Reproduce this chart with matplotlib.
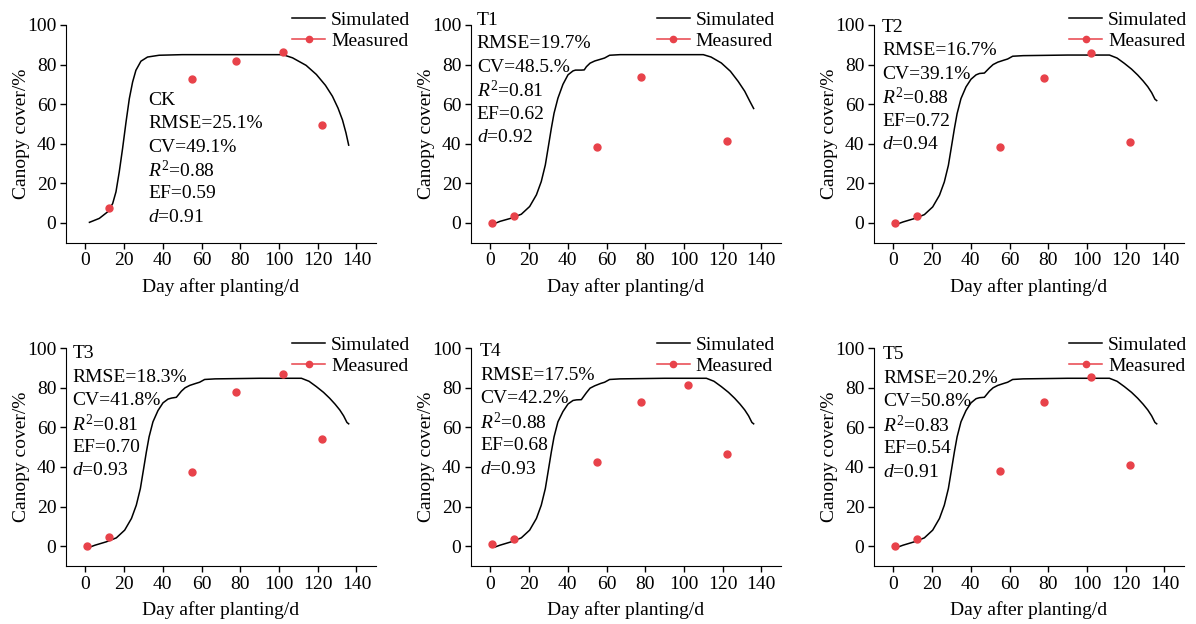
import matplotlib
matplotlib.use("Agg")
import matplotlib.pyplot as plt
from matplotlib.lines import Line2D
import numpy as np

plt.rcParams['font.family'] = ['Liberation Serif', 'DejaVu Serif']
plt.rcParams['mathtext.fontset'] = 'custom'
plt.rcParams['mathtext.rm'] = 'Liberation Serif'
plt.rcParams['mathtext.it'] = 'Liberation Serif:italic'
plt.rcParams['font.size'] = 14

RED = '#e8424a'

panel_names = ["CK", "T1", "T2", "T3", "T4", "T5"]

# measured canopy cover (days after planting, %)
meas_days = {
    "CK": [12, 55, 78, 102, 122],
    "T1": [1, 12, 55, 78, 122],
    "T2": [1, 12, 55, 78, 102, 122],
    "T3": [1, 12, 55, 78, 102, 122],
    "T4": [1, 12, 55, 78, 102, 122],
    "T5": [1, 12, 55, 78, 102, 122],
}
meas_cc = {
    "CK": [7.6, 72.7, 81.6, 86.2, 49.7],
    "T1": [0.2, 3.7, 38.3, 73.5, 41.3],
    "T2": [0.0, 3.7, 38.3, 73.4, 86.0, 41.1],
    "T3": [0.3, 4.5, 37.4, 78.1, 87.0, 53.9],
    "T4": [1.0, 3.5, 42.4, 73.0, 81.3, 46.6],
    "T5": [0.0, 3.5, 38.0, 73.0, 85.2, 41.0],
}

# simulated canopy cover
ck_days = [2.1, 7.2, 11.5, 14.1, 15.8, 17.5, 19.2, 21, 22.7, 24.4, 26.1, 28.7,
           32.1, 38.1, 50, 70, 90, 102, 107, 114, 119.3, 124, 127.6, 130.5,
           132.8, 134.6, 136]
ck_cc = [0.3, 2.3, 5.6, 9.8, 15.7, 25.8, 37.5, 51, 62.8, 71.2, 77.1, 81.7,
         83.8, 84.7, 85, 85, 85, 85, 83.4, 79.6, 75, 69.5, 64, 58, 52, 45.5, 39.3]

t1_days = [2.2, 5, 10.8, 16, 20.3, 23.8, 26.3, 28.4, 30.1, 31.5, 32.9, 34.9,
           37.5, 40.1, 42.7, 44, 47, 48.5, 49.6, 51.5, 53.9, 57, 59, 61.6, 67,
           90, 110, 114, 119.3, 124, 128, 131.4, 134, 136]
t1_cc = [-0.3, 0.8, 2.4, 4.4, 8.3, 14.2, 20.9, 29.3, 39.4, 47.8, 55.4, 63,
         70, 74.8, 76.8, 77.2, 77.2, 77.3, 78.9, 80.7, 81.8, 82.7, 83.3, 84.7,
         85, 85, 85, 83.8, 80.8, 76.6, 71.5, 66.5, 61.5, 57.8]

t2_days = [2.2, 5, 10.8, 16, 20.3, 23.8, 26.3, 28.4, 30.1, 31.5, 32.9, 34.9,
           37.5, 40.1, 42.7, 44.5, 47, 49.6, 51.5, 53.9, 57, 59, 61.6, 67, 90,
           111.6, 115.5, 119.3, 123, 126.2, 129, 131.4, 133.4, 135.1, 136]
t2_cc = [-0.5, 0.5, 2.2, 4.2, 8.1, 14, 20.7, 29.1, 39.2, 47.6, 55.2, 62.8,
         68.7, 72.6, 74.8, 75.5, 75.7, 78.3, 80, 81.2, 82.2, 82.8, 84.2, 84.5,
         84.8, 84.8, 83.3, 80.6, 77.7, 74.7, 71.7, 68.8, 65.8, 62.5, 61.8]

t3_days = t2_days
t3_cc = [-0.5, 0.5, 2.2, 4.2, 8.1, 14, 20.7, 29.1, 39.2, 47.6, 55.2, 62.8,
         68.5, 72.4, 74.3, 74.8, 75.2, 78.3, 80, 81.2, 82.2, 82.8, 84.2, 84.5,
         84.8, 84.8, 83.3, 80.6, 77.7, 74.7, 71.7, 68.8, 65.8, 62.5, 61.8]

t4_days = t2_days
t4_cc = [-0.5, 0.5, 2.2, 4.2, 8.1, 14, 20.7, 29.1, 39.2, 47.6, 55.2, 62.8,
         68, 71.8, 73.6, 73.9, 74, 77.5, 79.8, 81, 82.2, 82.8, 84.2, 84.5,
         84.8, 84.8, 83.3, 80.6, 77.7, 74.7, 71.7, 68.8, 65.8, 62.5, 61.8]

t5_days = t2_days
t5_cc = [-0.5, 0.5, 2.2, 4.2, 8.1, 14, 20.7, 29.1, 39.2, 47.6, 55.2, 62.8,
         68.5, 72.4, 74.5, 75, 75.2, 78.3, 80, 81.2, 82.2, 82.8, 84.2, 84.5,
         84.8, 84.8, 83.3, 80.6, 77.7, 74.7, 71.7, 68.8, 65.8, 62.5, 61.8]

sim_days = {"CK": ck_days, "T1": t1_days, "T2": t2_days,
            "T3": t3_days, "T4": t4_days, "T5": t5_days}
sim_cc = {"CK": ck_cc, "T1": t1_cc, "T2": t2_cc,
          "T3": t3_cc, "T4": t4_cc, "T5": t5_cc}

stats = {
    "CK": ["RMSE=25.1%", "CV=49.1%", "$\\mathit{R}^{2}$=0.88", "EF=0.59", "$\\mathit{d}$=0.91"],
    "T1": ["RMSE=19.7%", "CV=48.5.%", "$\\mathit{R}^{2}$=0.81", "EF=0.62", "$\\mathit{d}$=0.92"],
    "T2": ["RMSE=16.7%", "CV=39.1%", "$\\mathit{R}^{2}$=0.88", "EF=0.72", "$\\mathit{d}$=0.94"],
    "T3": ["RMSE=18.3%", "CV=41.8%", "$\\mathit{R}^{2}$=0.81", "EF=0.70", "$\\mathit{d}$=0.93"],
    "T4": ["RMSE=17.5%", "CV=42.2%", "$\\mathit{R}^{2}$=0.88", "EF=0.68", "$\\mathit{d}$=0.93"],
    "T5": ["RMSE=20.2%", "CV=50.8%", "$\\mathit{R}^{2}$=0.83", "EF=0.54", "$\\mathit{d}$=0.91"],
}

fig = plt.figure(figsize=(11.96, 6.24), dpi=100)

lefts = [0.0552, 0.3938, 0.7308]
bottoms = [0.611, 0.093]
w, h = 0.259, 0.349
leg_x = [0.73, 0.60, 0.63]
leg_y = [1.062, 1.054]
# anchor of the stats block for each panel (axes fraction)
txt_pos = [(0.265, 0.655), (0.019, 1.022), (0.026, 0.99),
           (0.02, 0.975), (0.029, 0.984), (0.029, 0.97)]

for i, name in enumerate(panel_names):
    r, c = divmod(i, 3)
    ax = fig.add_axes([lefts[c], bottoms[r], w, h])
    ax.plot(sim_days[name], sim_cc[name], color='black', lw=1.1, label='Simulated')
    ax.plot(meas_days[name], meas_cc[name], 'o', color=RED, ms=5, label='Measured')
    ax.set_xlim(-10, 150)
    ax.set_ylim(-10, 100)
    ax.set_xticks(np.arange(0, 141, 20))
    ax.set_yticks(np.arange(0, 101, 20))
    ax.spines['top'].set_visible(False)
    ax.spines['right'].set_visible(False)
    ax.tick_params(direction='out', length=4, width=1, labelsize=14, pad=3)
    ax.set_xlabel("Day after planting/d", fontsize=14, labelpad=6)
    ax.set_ylabel("Canopy cover/%", fontsize=14, labelpad=-2)

    handles = [Line2D([], [], color='black', lw=1.1),
               Line2D([], [], color=RED, lw=1.1, marker='o', ms=4.5)]
    ax.legend(handles, ['Simulated', 'Measured'], loc='upper left',
              bbox_to_anchor=(leg_x[c], leg_y[r]), frameon=False,
              borderpad=0, borderaxespad=0, handlelength=1.7,
              handletextpad=0.3, labelspacing=0.15, fontsize=14)

    x0, y0 = txt_pos[i]
    for k, s in enumerate([name] + stats[name]):
        ax.annotate(s, xy=(x0, y0), xycoords='axes fraction',
                    xytext=(0, -k * 16.9), textcoords='offset points',
                    va='center', ha='left', fontsize=14)

fig.savefig("out.png", dpi=100)
